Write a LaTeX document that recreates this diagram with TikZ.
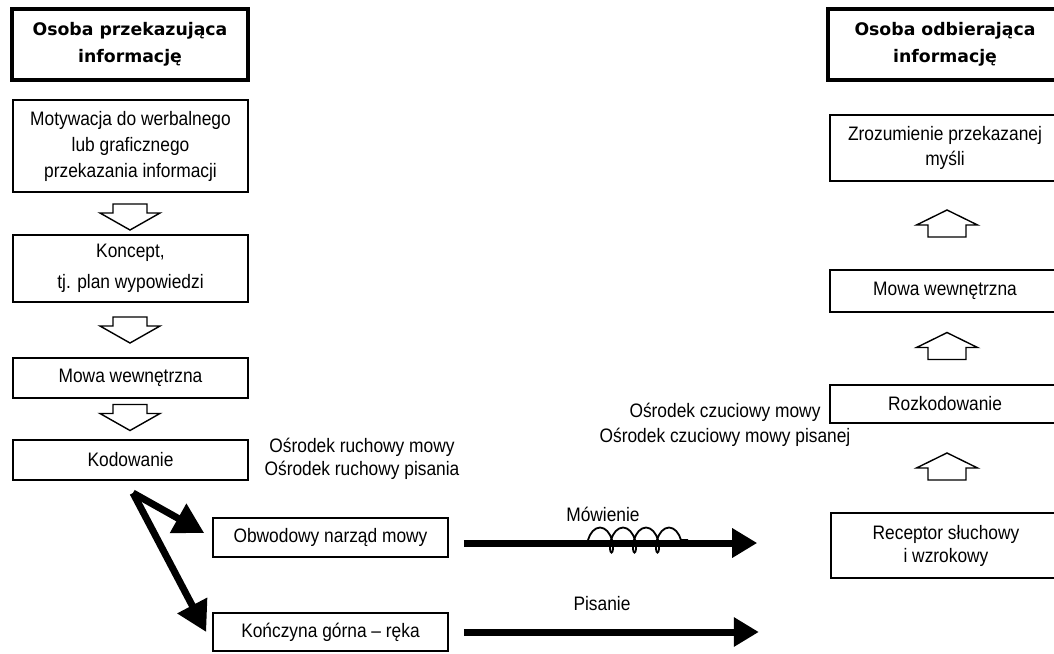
\documentclass[tikz,border=0pt]{standalone}
\usepackage{fontspec}
\setmainfont{Liberation Sans}[FakeStretch=0.89]
\newfontfamily\headfont{DejaVu Sans}
\usetikzlibrary{arrows.meta,calc,decorations.pathmorphing}
\begin{document}
\begin{tikzpicture}[x=1pt,y=-1pt,
  txt/.style={inner sep=0pt, align=center, font=\fontsize{19.5}{26}\selectfont},
  box/.style={txt, draw, line width=1.6pt, rectangle, minimum width=235pt},
  rbox/.style={box, minimum width=230pt},
  headbox/.style={draw, line width=4.5pt, rectangle, inner sep=0pt, align=center,
    minimum height=71pt, font=\headfont\bfseries\fontsize{17.3}{27}\selectfont},
  hollow/.style={draw, line width=1.4pt, fill=white, line join=miter},
  bigarrow/.style={line width=7pt, line join=miter,
    -{Triangle[length=30pt,width=32pt]}},
  harrow/.style={line width=7pt, -{Triangle[length=25pt,width=28pt]}},
  downarr/.pic={\draw[hollow] (-17,-13) -- (17,-13) -- (17,-4) -- (30,-4) -- (0,13) -- (-30,-4) -- (-17,-4) -- cycle;},
  uparr/.pic={\draw[hollow] (0,-13.5) -- (30.5,1.5) -- (19,1.5) -- (19,13.5) -- (-19,13.5) -- (-19,1.5) -- (-30.5,1.5) -- cycle;}
]
\useasboundingbox (0,0) rectangle (1054,653);
\clip (0,0) rectangle (1054,653);
\fill[white] (0,0) rectangle (1054,653);

% left column
\node[headbox, minimum width=236pt] (h1) at (130,44.5) {Osoba przekazująca\\informację};
\node[box, minimum height=92pt] (mot) at (130.5,146) {Motywacja do werbalnego\\lub graficznego\\przekazania informacji};
\node[box, minimum height=67pt, font=\fontsize{19.5}{31}\selectfont] (kon) at (130.5,268.5) {Koncept,\\tj. plan wypowiedzi};
\node[box, minimum height=40pt] (mwl) at (130.5,378) {Mowa wewnętrzna};
\node[box, minimum height=40pt] (kod) at (130.5,460) {Kodowanie};
\node[box, minimum height=39pt] (obw) at (330.5,537.5) {Obwodowy narząd mowy};
\node[box, minimum height=38pt] (kg) at (330.5,632) {Kończyna górna – ręka};

\pic at (130,217) {downarr};
\pic at (130,330) {downarr};
\pic at (130,417.5) {downarr};

\node[txt, font=\fontsize{19.5}{23}\selectfont] (orm) at (362,459) {Ośrodek ruchowy mowy\\Ośrodek ruchowy pisania};

% right column
\node[headbox, minimum width=234pt] (h2) at (945,44.5) {Osoba odbierająca\\informację};
\node[rbox, minimum height=66pt, font=\fontsize{19.5}{25}\selectfont] (zro) at (945,148) {Zrozumienie przekazanej\\myśli};
\node[rbox, minimum height=42pt] (mwr) at (945,291) {Mowa wewnętrzna};
\node[rbox, minimum height=38pt] (roz) at (945,404) {Rozkodowanie};
\node[rbox, minimum height=65pt, font=\fontsize{19.5}{23}\selectfont] (rec) at (946,545.5) {Receptor słuchowy\\i wzrokowy};

\pic at (947,223.5) {uparr};
\pic at (947,346) {uparr};
\pic at (947,466.5) {uparr};

\node[txt, font=\fontsize{19.5}{25}\selectfont] (ocz) at (725,425) {Ośrodek czuciowy mowy\\Ośrodek czuciowy mowy pisanej};

% thick arrows from coding
\coordinate (vs) at (133,493);
\draw[bigarrow] (vs) -- ($(obw.west)+(-8,-4.5)$);
\draw[bigarrow] (vs) -- ($(kg.west)+(-6,0)$);

% horizontal arrows
\draw[harrow] ($(obw.east)+(15,5.5)$) -- ($(rec.west)+(-73,-2.5)$);
\draw[harrow] ($(kg.east)+(15,0)$) -- ($(kg.east)+(310,0)$);
\node[txt] (mow) at (603,514) {Mówienie};
\node[txt] (pis) at (602,604) {Pisanie};

\draw[line width=1.8pt, decorate, decoration={coil, amplitude=12.5pt, segment length=23pt, aspect=0.5}] (588,540) -- (688,540);
\end{tikzpicture}
\end{document}
